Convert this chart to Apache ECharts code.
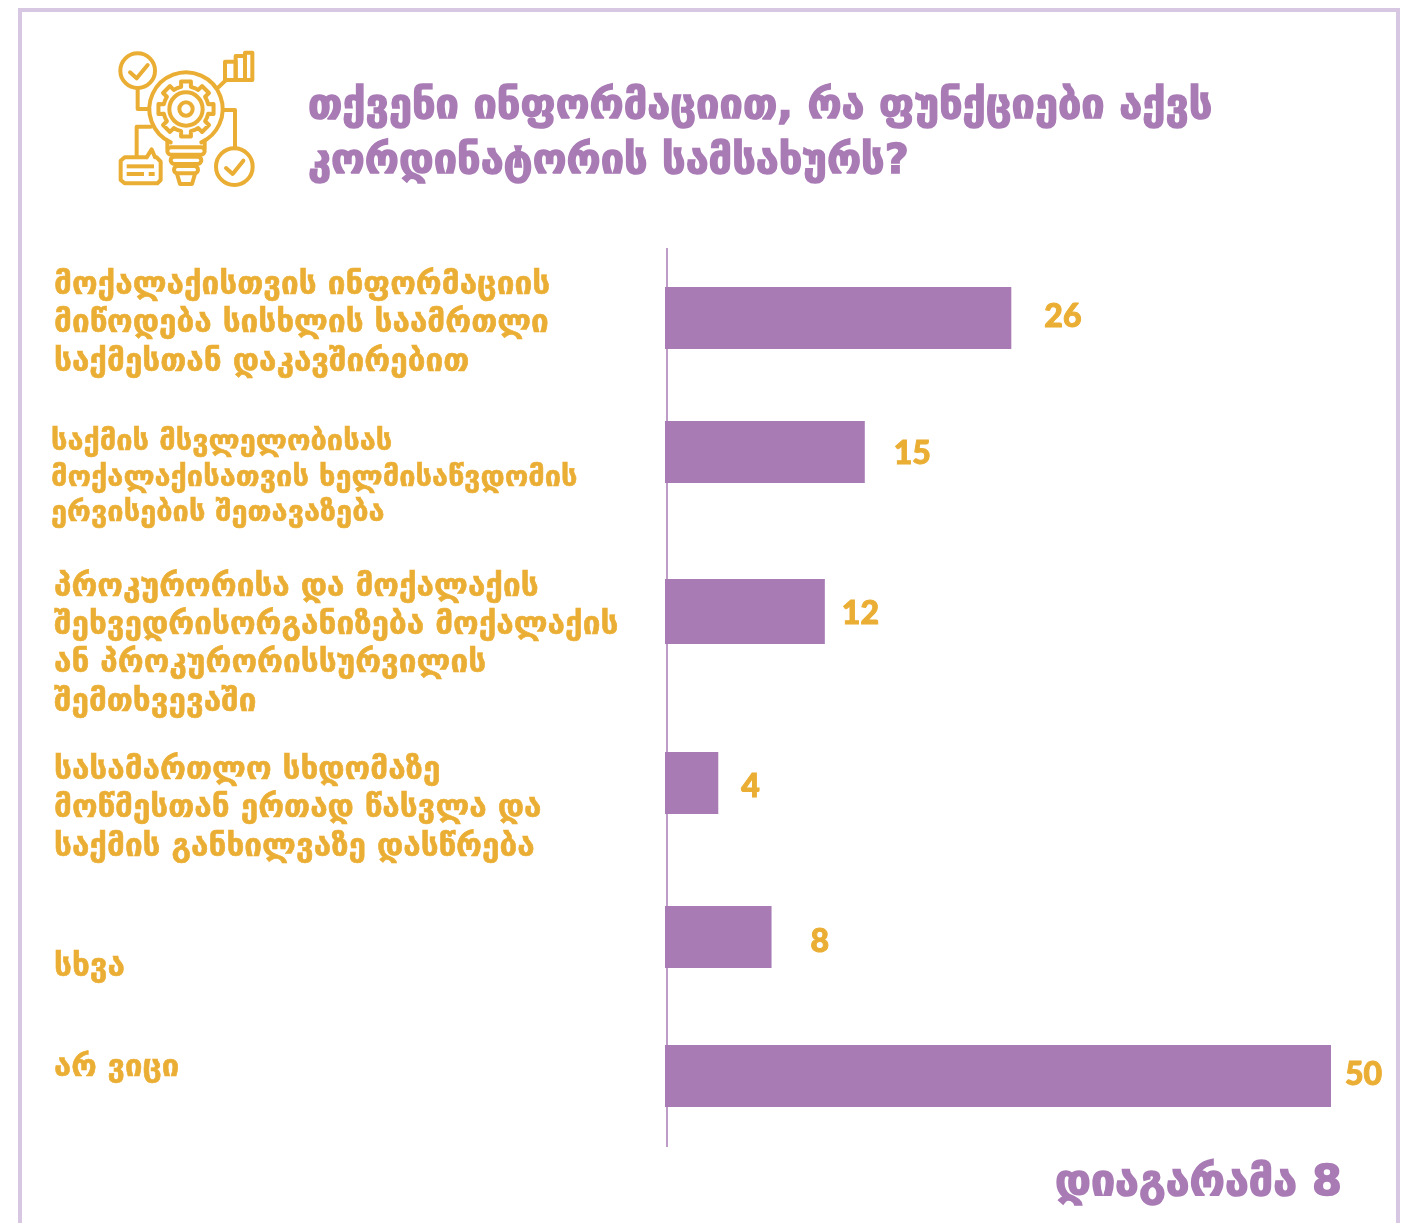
<!DOCTYPE html>
<html><head><meta charset="utf-8">
<style>html,body{margin:0;padding:0;background:#fff}#c{width:1412px;height:1223px}</style>
<script src="https://cdn.jsdelivr.net/npm/echarts@6/dist/echarts.min.js"></script>
</head><body><div id="c"></div>
<script>
const categories = [
  "მოქალაქისთვის ინფორმაციის\nმიწოდება სისხლის საამრთლი\nსაქმესთან დაკავშირებით",
  "საქმის მსვლელობისას\nმოქალაქისათვის ხელმისაწვდომის\nერვისების შეთავაზება",
  "პროკურორისა და მოქალაქის\nშეხვედრისორგანიზება მოქალაქის\nან პროკურორისსურვილის\nშემთხვევაში",
  "სასამართლო სხდომაზე\nმოწმესთან ერთად წასვლა და\nსაქმის განხილვაზე დასწრება",
  "სხვა",
  "არ ვიცი"
];
const values = [26, 15, 12, 4, 8, 50];
const titleText = "თქვენი ინფორმაციით, რა ფუნქციები აქვს\nკორდინატორის სამსახურს?";
const captionText = "დიაგარამა 8";

// layout (pixels)
const rowTop    = [248, 388, 516, 707, 859, 1015];
const rowBottom = [388, 516, 707, 859, 1015, 1137];
const barH      = [62, 62, 65, 62, 62, 62];
const labelGap  = [33, 29, 17, 23, 39, 14];
const labelDy   = [-1, 2, 2, 4, 5, -1];
const textDy    = [6, 26, 33.5, 26, 31, -8];
const textX     = [54, 51, 54, 54, 54, 54];
const textSize  = [31.5, 29, 31.5, 31.5, 31.5, 31];
const lineH     = [38.5, 35.5, 38.3, 38.5, 38, 38];
const PURPLE = "#A97BB5", GOLD = "#EBAE34", FRAME = "#D8C7E3";
const GEO = '"DejaVu Sans"';

const grid = [], xAxis = [], yAxis = [], series = [];
values.forEach((v, i) => {
  const dy = textDy[i];
  grid.push({left: 665, width: 666, top: rowTop[i], height: rowBottom[i] - rowTop[i]});
  xAxis.push({gridIndex: i, type: "value", min: 0, max: 50, show: false});
  yAxis.push({
    gridIndex: i, type: "category", data: [categories[i]],
    axisLine: {show: false}, axisTick: {show: false}, splitLine: {show: false},
    axisLabel: {
      show: true, interval: 0, hideOverlap: false, align: "left", margin: 665 - textX[i],
      formatter: s => {
        const body = s.split("\n").map(l => "{t|" + l + "}").join("\n");
        return dy >= 0 ? "{sp| }\n" + body : body + "\n{sp| }";
      },
      rich: {
        t: {color: GOLD, fontFamily: GEO, fontWeight: "bold", fontSize: textSize[i], lineHeight: lineH[i],
            textBorderColor: GOLD, textBorderWidth: 0.6},
        sp: {fontSize: 1, lineHeight: Math.max(1, 2 * Math.abs(dy))}
      }
    }
  });
  series.push({
    type: "bar", xAxisIndex: i, yAxisIndex: i, data: [v], barWidth: barH[i], z: 3,
    itemStyle: {color: PURPLE}, silent: true,
    label: {show: true, position: "right", distance: labelGap[i], offset: [0, labelDy[i]], color: GOLD,
      fontFamily: "Lato", fontWeight: 900, fontSize: 32, textBorderColor: GOLD, textBorderWidth: 1}
  });
});

// decorative icon, drawn at 3x inside a scaled group
const st = {fill: "none", stroke: GOLD, lineWidth: 12, lineJoin: "round", lineCap: "round"};
const fillSt = {fill: GOLD};
const poly = pts => ({type: "polyline", shape: {points: pts}, style: st});
const circ = (cx, cy, r) => ({type: "circle", shape: {cx, cy, r}, style: st});
const rect = (x, y, width, height, r) => ({type: "rect", shape: {x, y, width, height, r: r || 0}, style: st});
const frect = (x, y, width, height) => ({type: "rect", shape: {x, y, width, height}, style: fillSt});
const gearPts = [];
const teeth = 8, rO = 84, rI = 68, cx = 258, cy = 207;
for (let k = 0; k < teeth; k++) {
  const a = k / teeth * 2 * Math.PI, w = Math.PI / teeth;
  [[rI, -w], [rI, -w * .55], [rO, -w * .45], [rO, w * .45], [rI, w * .55]].forEach(p => {
    gearPts.push([cx + p[0] * Math.cos(a + p[1]), cy + p[0] * Math.sin(a + p[1])]);
  });
}
const icon = {
  type: "group", x: 100, y: 40, scaleX: 1 / 3, scaleY: 1 / 3, silent: true,
  children: [
    circ(113, 92, 52),
    poly([[90, 97], [110, 115], [143, 75]]),
    poly([[113, 145], [113, 207], [148, 207]]),
    rect(375, 65, 32, 55), rect(407, 48, 28, 72), rect(435, 38, 22, 82),
    poly([[355, 142], [378, 120]]),
    {type: "arc", shape: {cx, cy, r: 110, startAngle: 2.0, endAngle: 1.14, clockwise: true}, style: st},
    poly([[202, 302], [202, 325]]), poly([[314, 302], [314, 325]]),
    rect(202, 322, 112, 22, 11), rect(212, 350, 92, 22, 11), rect(222, 378, 72, 22, 11),
    poly([[232, 405], [240, 432], [276, 432], [284, 405]]),
    {type: "polygon", shape: {points: gearPts}, style: st},
    circ(cx, cy, 50), circ(cx, cy, 20),
    poly([[372, 210], [405, 210], [405, 325]]),
    circ(403, 380, 55),
    poly([[378, 384], [398, 402], [430, 362]]),
    poly([[152, 260], [110, 260], [110, 348]]),
    poly([[140, 352], [155, 328], [165, 352], [170, 352], [182, 365], [182, 420], [172, 430], [74, 430], [62, 420], [62, 362], [74, 352], [140, 352]]),
    frect(80, 373, 82, 12), frect(80, 396, 52, 12), frect(146, 396, 18, 12)
  ]
};

const chart = echarts.init(document.getElementById("c"), null, {renderer: "canvas", width: 1412, height: 1223});
chart.setOption({
  animation: false,
  backgroundColor: "#fff",
  title: [
    {text: titleText, left: 303, top: 75,
     textStyle: {color: PURPLE, fontFamily: GEO, fontWeight: "bold", fontSize: 41.5, lineHeight: 55,
       textBorderColor: PURPLE, textBorderWidth: 1.5}},
    {text: captionText, left: 1050, top: 1157,
     textStyle: {color: PURPLE, fontFamily: GEO, fontWeight: "bold", fontSize: 43,
       textBorderColor: PURPLE, textBorderWidth: 1.5}}
  ],
  grid, xAxis, yAxis, series,
  graphic: [
    {type: "rect", shape: {x: 20, y: 10, width: 1378, height: 1300}, silent: true, z: 0,
     style: {fill: "none", stroke: FRAME, lineWidth: 4}},
    {type: "line", shape: {x1: 667, y1: 248, x2: 667, y2: 1147}, silent: true, z: 1,
     style: {stroke: PURPLE, lineWidth: 1.5}},
    icon
  ]
});
</script></body></html>
